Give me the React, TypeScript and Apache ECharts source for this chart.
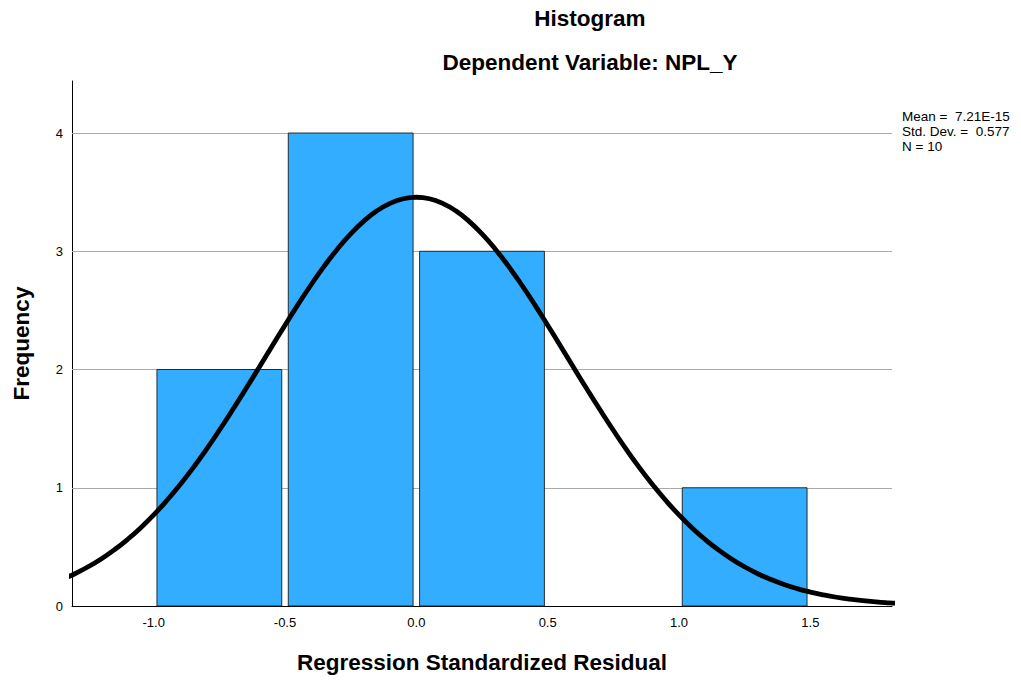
import React, { useEffect, useRef } from "react";
import * as echarts from "echarts";

// Histogram bins: [start, end] and frequency
const binStarts = [-1.0, -0.5, 0.0, 0.5, 1.0];
const binEnds = [-0.5, 0.0, 0.5, 1.0, 1.5];
const frequencies = [2, 4, 3, 0, 1];

// Normal curve, values
const curveX = [
  -1.45, -1.4, -1.35, -1.3, -1.25, -1.2, -1.15, -1.1, -1.05, -1.0, -0.95, -0.9, -0.85, -0.8, -0.75, -0.7, -0.65, -0.6, -0.55, -0.5,
  -0.45, -0.4, -0.35, -0.3, -0.25, -0.2, -0.15, -0.1, -0.05, 0.0, 0.05, 0.1, 0.15, 0.2, 0.25, 0.3, 0.35, 0.4, 0.45, 0.5,
  0.55, 0.6, 0.65, 0.7, 0.75, 0.8, 0.85, 0.9, 0.95, 1.0, 1.05, 1.1, 1.15, 1.2, 1.25, 1.3, 1.35, 1.4, 1.45, 1.5,
  1.55, 1.6, 1.65, 1.7, 1.75, 1.8, 1.85, 1.9,
];
const curveY = [
  0.147, 0.182, 0.224, 0.273, 0.331, 0.398, 0.475, 0.562, 0.66, 0.77, 0.892, 1.025, 1.168, 1.322, 1.486, 1.657, 1.833, 2.013, 2.195, 2.375,
  2.551, 2.719, 2.876, 3.02, 3.147, 3.255, 3.342, 3.405, 3.444, 3.457, 3.444, 3.405, 3.342, 3.255, 3.147, 3.02, 2.876, 2.719, 2.551, 2.375,
  2.195, 2.013, 1.833, 1.657, 1.486, 1.322, 1.168, 1.025, 0.892, 0.77, 0.66, 0.562, 0.475, 0.398, 0.331, 0.273, 0.224, 0.182, 0.147, 0.118,
  0.094, 0.074, 0.058, 0.045, 0.035, 0.027, 0.02, 0.015,
];

const xTickLabels = [-1.0, -0.5, 0.0, 0.5, 1.0, 1.5];
const yTickLabels = [0, 1, 2, 3, 4];
const gridLineValues = [1, 2, 3, 4];

const statLines = ["Mean =  7.21E-15", "Std. Dev. =  0.577", "N = 10"];
const titleText = "Histogram";
const subtitleText = "Dependent Variable: NPL_Y";

const FONT = "'Liberation Sans', Arial, sans-serif";

export default function App() {
  const ref = useRef<HTMLDivElement>(null);
  useEffect(() => {
    document.body.style.margin = "0";
    const chart = echarts.init(ref.current!, undefined, { renderer: "svg" });
    const barData = binStarts.map((s, i) => [s, binEnds[i], frequencies[i]]);
    const curveData = curveX.map((x, i) => [x, curveY[i]]);
    chart.setOption({
      animation: false,
      backgroundColor: "#ffffff",
      textStyle: { fontFamily: FONT },
      grid: { left: 72, top: 81, width: 820, height: 525, containLabel: false, outerBoundsMode: "none" },
      xAxis: {
        type: "value",
        min: -1.311,
        max: 1.811,
        name: "Regression Standardized Residual",
        nameLocation: "middle",
        nameGap: 45,
        nameTextStyle: { fontSize: 22.5, fontWeight: "bold", color: "#000", fontFamily: FONT },
        axisLine: { show: true, onZero: false, lineStyle: { color: "#000", width: 1 } },
        axisTick: { show: false },
        splitLine: { show: false },
        axisLabel: {
          customValues: xTickLabels,
          formatter: (v: number) => v.toFixed(1),
          color: "#000",
          fontSize: 13,
          margin: 10,
          fontFamily: FONT,
        },
      },
      yAxis: {
        type: "value",
        min: 0,
        max: 4.44,
        name: "Frequency",
        nameLocation: "middle",
        nameGap: 39,
        nameRotate: 90,
        nameTextStyle: { fontSize: 22.5, fontWeight: "bold", color: "#000", fontFamily: FONT },
        axisLine: { show: true, onZero: false, lineStyle: { color: "#000", width: 1 } },
        axisTick: { show: false },
        splitLine: { show: false },
        axisLabel: {
          customValues: yTickLabels,
          formatter: (v: number) => String(v),
          color: "#000",
          fontSize: 13,
          margin: 9,
          fontFamily: FONT,
        },
      },
      series: [
        {
          type: "custom",
          data: barData,
          encode: { x: [0, 1], y: 2 },
          z: 2,
          renderItem: (params: any, api: any) => {
            const s = api.value(0);
            const e = api.value(1);
            const c = api.value(2);
            if (!c) return null;
            const gap = 0.0124;
            const p0 = api.coord([s + gap, c]);
            const p1 = api.coord([e - gap, 0]);
            return {
              type: "rect",
              shape: { x: p0[0], y: p0[1], width: p1[0] - p0[0], height: p1[1] - p0[1] },
              style: { fill: "#33adff", stroke: "#1a1a1a", lineWidth: 0.9 },
            };
          },
          markLine: {
            silent: true,
            symbol: "none",
            label: { show: false },
            lineStyle: { color: "#aaaaaa", width: 1, type: "solid" },
            z: 1,
            data: gridLineValues.map((v) => ({ yAxis: v })),
          },
        },
        {
          type: "line",
          data: curveData,
          smooth: true,
          showSymbol: false,
          clip: true,
          z: 5,
          lineStyle: { color: "#000", width: 4.8 },
        },
      ],
      graphic: [
        {
          type: "text",
          x: 590,
          y: 18,
          style: {
            text: titleText,
            font: `bold 22.5px ${FONT}`,
            fill: "#000",
            textAlign: "center",
            textVerticalAlign: "middle",
          },
        },
        {
          type: "text",
          x: 590,
          y: 62,
          style: {
            text: subtitleText,
            font: `bold 22.5px ${FONT}`,
            fill: "#000",
            textAlign: "center",
            textVerticalAlign: "middle",
          },
        },
        {
          type: "text",
          x: 902,
          y: 109,
          style: {
            text: statLines.join("\n"),
            font: `13.5px ${FONT}`,
            lineHeight: 15,
            fill: "#000",
            textAlign: "left",
            textVerticalAlign: "top",
          },
        },
      ],
    });
    return () => chart.dispose();
  }, []);
  return <div ref={ref} style={{ position: "absolute", left: 0, top: 0, width: 1021, height: 680 }} />;
}
